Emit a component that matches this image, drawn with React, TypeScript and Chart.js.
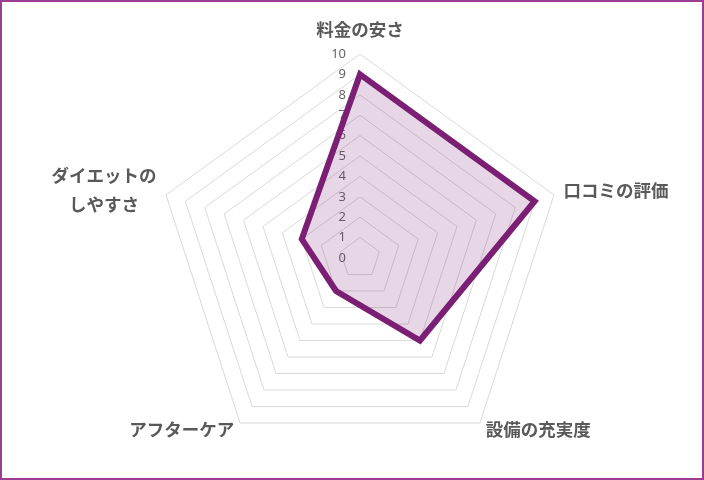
import { useEffect, useRef } from 'react';
import { Chart, registerables } from 'chart.js';

Chart.register(...registerables);

// Axis labels, clockwise from the top
const categories: (string | string[])[] = [
  '料金の安さ',
  '口コミの評価',
  '設備の充実度',
  'アフターケア',
  ['ダイエットの', 'しやすさ'],
];

// Scores out of 10
const scores = [9, 9, 5, 2, 3];

// Scale ticks shown on the vertical axis
const tickValues = [0, 1, 2, 3, 4, 5, 6, 7, 8, 9, 10];

const FONT = '"Noto Sans CJK JP", "Noto Sans", sans-serif';

// Excel-like labels: value ticks sit left of the top spoke (0 included),
// category labels hug the outer ring.
const labelPlugin = {
  id: 'excelLabels',
  beforeDatasetsDraw(chart: any) {
    const scale = chart.scales.r;
    const ctx = chart.ctx;
    ctx.save();
    ctx.font = '13px "Noto Sans", sans-serif';
    ctx.fillStyle = '#666666';
    ctx.textAlign = 'right';
    ctx.textBaseline = 'middle';
    tickValues.forEach((v) => {
      const d = scale.getDistanceFromCenterForValue(v);
      ctx.fillText(String(v), scale.xCenter - 14, scale.yCenter - d);
    });
    ctx.restore();
  },
  afterDatasetsDraw(chart: any) {
    const scale = chart.scales.r;
    const ctx = chart.ctx;
    const lineH = 29;
    ctx.save();
    ctx.font = `bold 17.5px ${FONT}`;
    ctx.fillStyle = '#595959';
    ctx.textBaseline = 'middle';
    ctx.textAlign = 'center';
    categories.forEach((label, i) => {
      const lines = Array.isArray(label) ? label : [label];
      const pos = scale.getPointPosition(i, scale.drawingArea + 10);
      const angle = Math.round((scale.getIndexAngle(i) * 180) / Math.PI) % 360;
      const blockW = Math.max(...lines.map((l) => ctx.measureText(l).width));
      const blockH = lines.length * lineH;
      let cx = pos.x;
      if (angle > 0 && angle < 180) cx = pos.x + blockW / 2;
      else if (angle > 180) cx = pos.x - blockW / 2;
      let cy = pos.y - 2;
      if (angle === 0) cy = pos.y - blockH / 2;
      lines.forEach((l, k) => {
        ctx.fillText(l, cx, cy - blockH / 2 + lineH / 2 + k * lineH);
      });
    });
    ctx.restore();
  },
};

export default function App() {
  const canvasRef = useRef<HTMLCanvasElement>(null);

  useEffect(() => {
    document.body.style.margin = '0';
    if (!canvasRef.current) return;

    const chart = new Chart(canvasRef.current, {
      type: 'radar',
      data: {
        labels: categories,
        datasets: [
          {
            label: '評価',
            data: scores,
            borderColor: '#7a1f73',
            backgroundColor: 'rgba(122, 31, 115, 0.18)',
            borderWidth: 6,
            pointRadius: 0,
            fill: true,
          },
        ],
      },
      options: {
        animation: false,
        responsive: true,
        maintainAspectRatio: false,
        layout: {
          padding: { top: 52, bottom: 16, left: 154, right: 138 },
        },
        plugins: {
          legend: { display: false },
          tooltip: { enabled: false },
        },
        scales: {
          r: {
            min: 0,
            max: 10,
            angleLines: { display: false },
            grid: { color: '#d9d9d9', lineWidth: 1 },
            ticks: { stepSize: 1, display: false },
            pointLabels: { display: false },
          },
        },
      },
      plugins: [labelPlugin],
    });

    return () => {
      chart.destroy();
    };
  }, []);

  return (
    <div
      style={{
        width: 704,
        height: 480,
        boxSizing: 'border-box',
        border: '2px solid #9b3d96',
        background: '#ffffff',
      }}
    >
      <div style={{ position: 'relative', width: 700, height: 476 }}>
        <canvas ref={canvasRef} />
      </div>
    </div>
  );
}
